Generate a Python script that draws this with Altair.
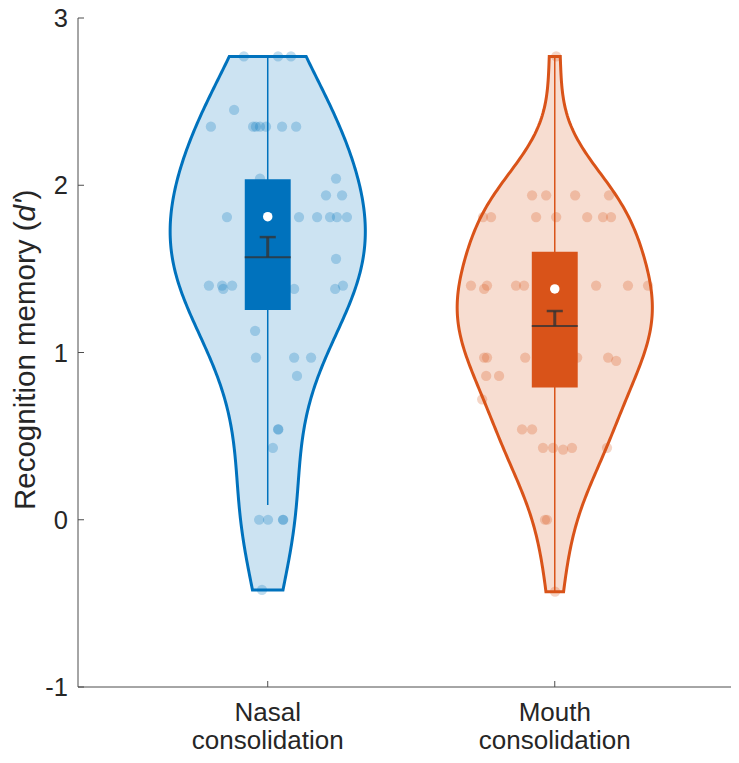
import altair as alt
import pandas as pd

# ---------------- data ----------------
groups = ["Nasal consolidation", "Mouth consolidation"]
group_labels = ["Nasal\nconsolidation", "Mouth\nconsolidation"]
group_pos = [1, 2]
group_colors = ["#0072BD", "#D95319"]
y_tick_values = [-1, 0, 1, 2, 3]
y_tick_labels = ["-1", "0", "1", "2", "3"]

# individual d' values and their horizontal jitter (axis units)
nasal_values = [2.77, 2.77, 2.77, 2.45,
                2.35, 2.35, 2.35, 2.35, 2.35, 2.35, 2.35,
                2.04, 2.04, 1.94, 1.94,
                1.81, 1.81, 1.81, 1.81, 1.81, 1.81,
                1.56, 1.40, 1.40, 1.40, 1.40, 1.38, 1.38, 1.38,
                1.13, 0.97, 0.97, 0.97, 0.86, 0.54, 0.54, 0.43,
                0.00, 0.00, 0.00, 0.00, -0.42,
                1.94, 1.81, 1.56, 1.40, 1.38]
nasal_jitter = [-0.083, 0.036, 0.081, -0.117,
                -0.198, -0.051, -0.041, -0.027, -0.006, 0.050, 0.099,
                -0.027, 0.238, 0.203, 0.259,
                -0.142, 0.109, 0.172, 0.217, 0.241, 0.276,
                0.238, -0.205, -0.159, -0.124, 0.262, -0.155, 0.092, 0.235,
                -0.044, -0.041, 0.092, 0.151, 0.102, 0.036, 0.037, 0.018,
                -0.030, 0.001, 0.053, 0.054, -0.020,
                0.030, -0.040, -0.060, 0.020, -0.030]

mouth_values = [2.77,
                1.94, 1.94, 1.94, 1.94,
                1.81, 1.81, 1.81, 1.81, 1.81, 1.81, 1.81,
                1.40, 1.40, 1.40, 1.40, 1.40, 1.40, 1.40, 1.38,
                0.97, 0.97, 0.97, 0.97, 0.97, 0.95,
                0.86, 0.86, 0.72, 0.54, 0.54,
                0.43, 0.43, 0.43, 0.43, 0.42,
                0.00, 0.00, -0.43,
                1.40, 1.38, 1.26, 1.26, 1.13, 1.13, 0.97]
mouth_jitter = [0.005,
                -0.079, -0.030, 0.071, 0.189,
                -0.250, -0.222, -0.065, 0.005, 0.113, 0.168, 0.196,
                -0.292, -0.236, -0.135, -0.107, 0.144, 0.255, 0.325, -0.246,
                -0.246, -0.236, -0.103, 0.078, 0.186, 0.214,
                -0.239, -0.194, -0.253, -0.114, -0.079,
                -0.041, -0.006, 0.060, 0.182, 0.029,
                -0.034, -0.027, 0.001,
                0.030, -0.030, -0.020, 0.040, 0.040, -0.040, 0.010]

# summary statistics
q1 = [1.254, 0.790]
q3 = [2.036, 1.603]
medians = [1.812, 1.380]
means = [1.570, 1.158]
sem_upper = [1.690, 1.248]
whisker_low = [0.088, -0.430]
whisker_high = [2.770, 2.770]

# ---------------- styling constants ----------------
FONT = "Liberation Sans"
TXT = "#262626"
AX = "#4d4d4d"
BANDWIDTHS = [0.39, 0.30]   # KDE bandwidth per violin
HALF_W = 0.34               # violin half width (axis units)
BOX_HW = 0.08
CAP_HW = 0.028
W, H = 653, 669

xscale = alt.Scale(domain=[0.339, 2.614], nice=False, zero=False)
yscale = alt.Scale(domain=[-1, 3], nice=False, zero=False)
cscale = alt.Scale(domain=groups, range=group_colors)

rows = []
for g, p, vals, jit in [(groups[0], group_pos[0], nasal_values, nasal_jitter),
                        (groups[1], group_pos[1], mouth_values, mouth_jitter)]:
    for v, j in zip(vals, jit):
        rows.append({"group": g, "pos": p, "value": v, "xp": p + j})
pts = pd.DataFrame(rows)

stats = pd.DataFrame({"group": groups, "pos": group_pos, "q1": q1, "q3": q3,
                      "med": medians, "mean": means, "sem_hi": sem_upper,
                      "wlo": whisker_low, "whi": whisker_high})
labels_df = pd.DataFrame({"pos": group_pos, "label": group_labels})
ticks_df = pd.DataFrame({"v": y_tick_values, "lab": y_tick_labels})
xticks_df = pd.DataFrame({"pos": group_pos})
one = pd.DataFrame({"k": [0]})

layers = []
# violins
for g, p, c, vals, bw in zip(groups, group_pos, group_colors,
                             [nasal_values, mouth_values], BANDWIDTHS):
    v = (alt.Chart(pts)
         .transform_filter(alt.datum.group == g)
         .transform_density("value", as_=["value", "density"], extent=[min(vals), max(vals)],
                            bandwidth=bw, steps=200)
         .transform_joinaggregate(maxd="max(density)")
         .transform_calculate(lo=f"{p} - {HALF_W} * datum.density / datum.maxd",
                              hi=f"{p} + {HALF_W} * datum.density / datum.maxd")
         .mark_area(orient="horizontal", fill=c, fillOpacity=0.2, stroke=c, strokeWidth=3)
         .encode(y=alt.Y("value:Q", scale=yscale, axis=None),
                 x=alt.X("lo:Q", scale=xscale, axis=None),
                 x2="hi:Q"))
    layers.append(v)

pts_layer = alt.Chart(pts).mark_circle(size=105, opacity=0.25).encode(
    x=alt.X("xp:Q", scale=xscale, axis=None),
    y=alt.Y("value:Q", scale=yscale, axis=None),
    color=alt.Color("group:N", scale=cscale, legend=None))
layers.append(pts_layer)

base = alt.Chart(stats).transform_calculate(
    bx0=f"datum.pos - {BOX_HW}", bx1=f"datum.pos + {BOX_HW}",
    cx0=f"datum.pos - {CAP_HW}", cx1=f"datum.pos + {CAP_HW}")

whisk = base.mark_rule(strokeWidth=1.5).encode(
    x=alt.X("pos:Q", scale=xscale, axis=None),
    y=alt.Y("wlo:Q", scale=yscale, axis=None), y2="whi:Q",
    color=alt.Color("group:N", scale=cscale, legend=None))
box = base.mark_rect().encode(
    x=alt.X("bx0:Q", scale=xscale, axis=None), x2="bx1:Q",
    y=alt.Y("q1:Q", scale=yscale, axis=None), y2="q3:Q",
    color=alt.Color("group:N", scale=cscale, legend=None))
mean_l = base.mark_rule(strokeWidth=2, color="#333333", opacity=0.8).encode(
    x=alt.X("bx0:Q", scale=xscale, axis=None), x2="bx1:Q",
    y=alt.Y("mean:Q", scale=yscale, axis=None))
stem = base.mark_rule(strokeWidth=3, color="#333333", opacity=0.8).encode(
    x=alt.X("pos:Q", scale=xscale, axis=None),
    y=alt.Y("mean:Q", scale=yscale, axis=None), y2="sem_hi:Q")
cap = base.mark_rule(strokeWidth=2.5, color="#333333", opacity=0.8).encode(
    x=alt.X("cx0:Q", scale=xscale, axis=None), x2="cx1:Q",
    y=alt.Y("sem_hi:Q", scale=yscale, axis=None))
med = base.mark_circle(size=90, color="white", opacity=1).encode(
    x=alt.X("pos:Q", scale=xscale, axis=None),
    y=alt.Y("med:Q", scale=yscale, axis=None))
layers += [whisk, box, mean_l, stem, cap, med]

# axis lines
ydom = alt.Chart(one).mark_rule(color=AX, strokeWidth=1).encode(
    x=alt.value(0), y=alt.value(0), y2=alt.value(H))
xdom = alt.Chart(one).mark_rule(color=AX, strokeWidth=1).encode(
    x=alt.value(0), x2=alt.value(W), y=alt.value(H))
# inward ticks
yt = alt.Chart(ticks_df).mark_rule(color=AX, strokeWidth=1).encode(
    y=alt.Y("v:Q", scale=yscale, axis=None), x=alt.value(0), x2=alt.value(6))
xt = alt.Chart(xticks_df).mark_rule(color=AX, strokeWidth=1).encode(
    x=alt.X("pos:Q", scale=xscale, axis=None), y=alt.value(H), y2=alt.value(H - 6))
# y tick labels
ylab = alt.Chart(ticks_df).mark_text(font=FONT, fontSize=25.5, color=TXT, align="right",
                                     baseline="middle", dy=1).encode(
    y=alt.Y("v:Q", scale=yscale, axis=None), x=alt.value(-10), text="lab:N")
layers += [ydom, xdom, yt, xt, ylab]

# category labels (two lines)
xl = alt.Chart(labels_df).mark_text(font=FONT, fontSize=26, lineBreak="\n", lineHeight=27.5,
                                    baseline="alphabetic", align="center", color=TXT).encode(
    x=alt.X("pos:Q", scale=xscale, axis=None), y=alt.value(703), text="label:N")
layers.append(xl)

# y-axis title with italic d'
title_parts = ["Recognition memory (", "d'", ")"]
title_y = [492.0, 203.5, 181.5]
title_style = ["normal", "italic", "normal"]
for part, ty, st in zip(title_parts, title_y, title_style):
    t = alt.Chart(pd.DataFrame({"t": [part]})).mark_text(
        font=FONT, fontSize=29.5, fontStyle=st, angle=270, align="left",
        baseline="alphabetic", color=TXT).encode(
        x=alt.value(-43), y=alt.value(ty), text="t:N")
    layers.append(t)

chart = alt.layer(*layers).properties(
    width=W, height=H,
    autosize=alt.AutoSizeParams(type="none"),
    padding={"left": 70, "top": 10, "right": 0, "bottom": 67},
).configure(background="white", view=alt.ViewConfig(strokeWidth=0))

chart.save("out.html", embed_options={"renderer": "svg", "actions": False})
